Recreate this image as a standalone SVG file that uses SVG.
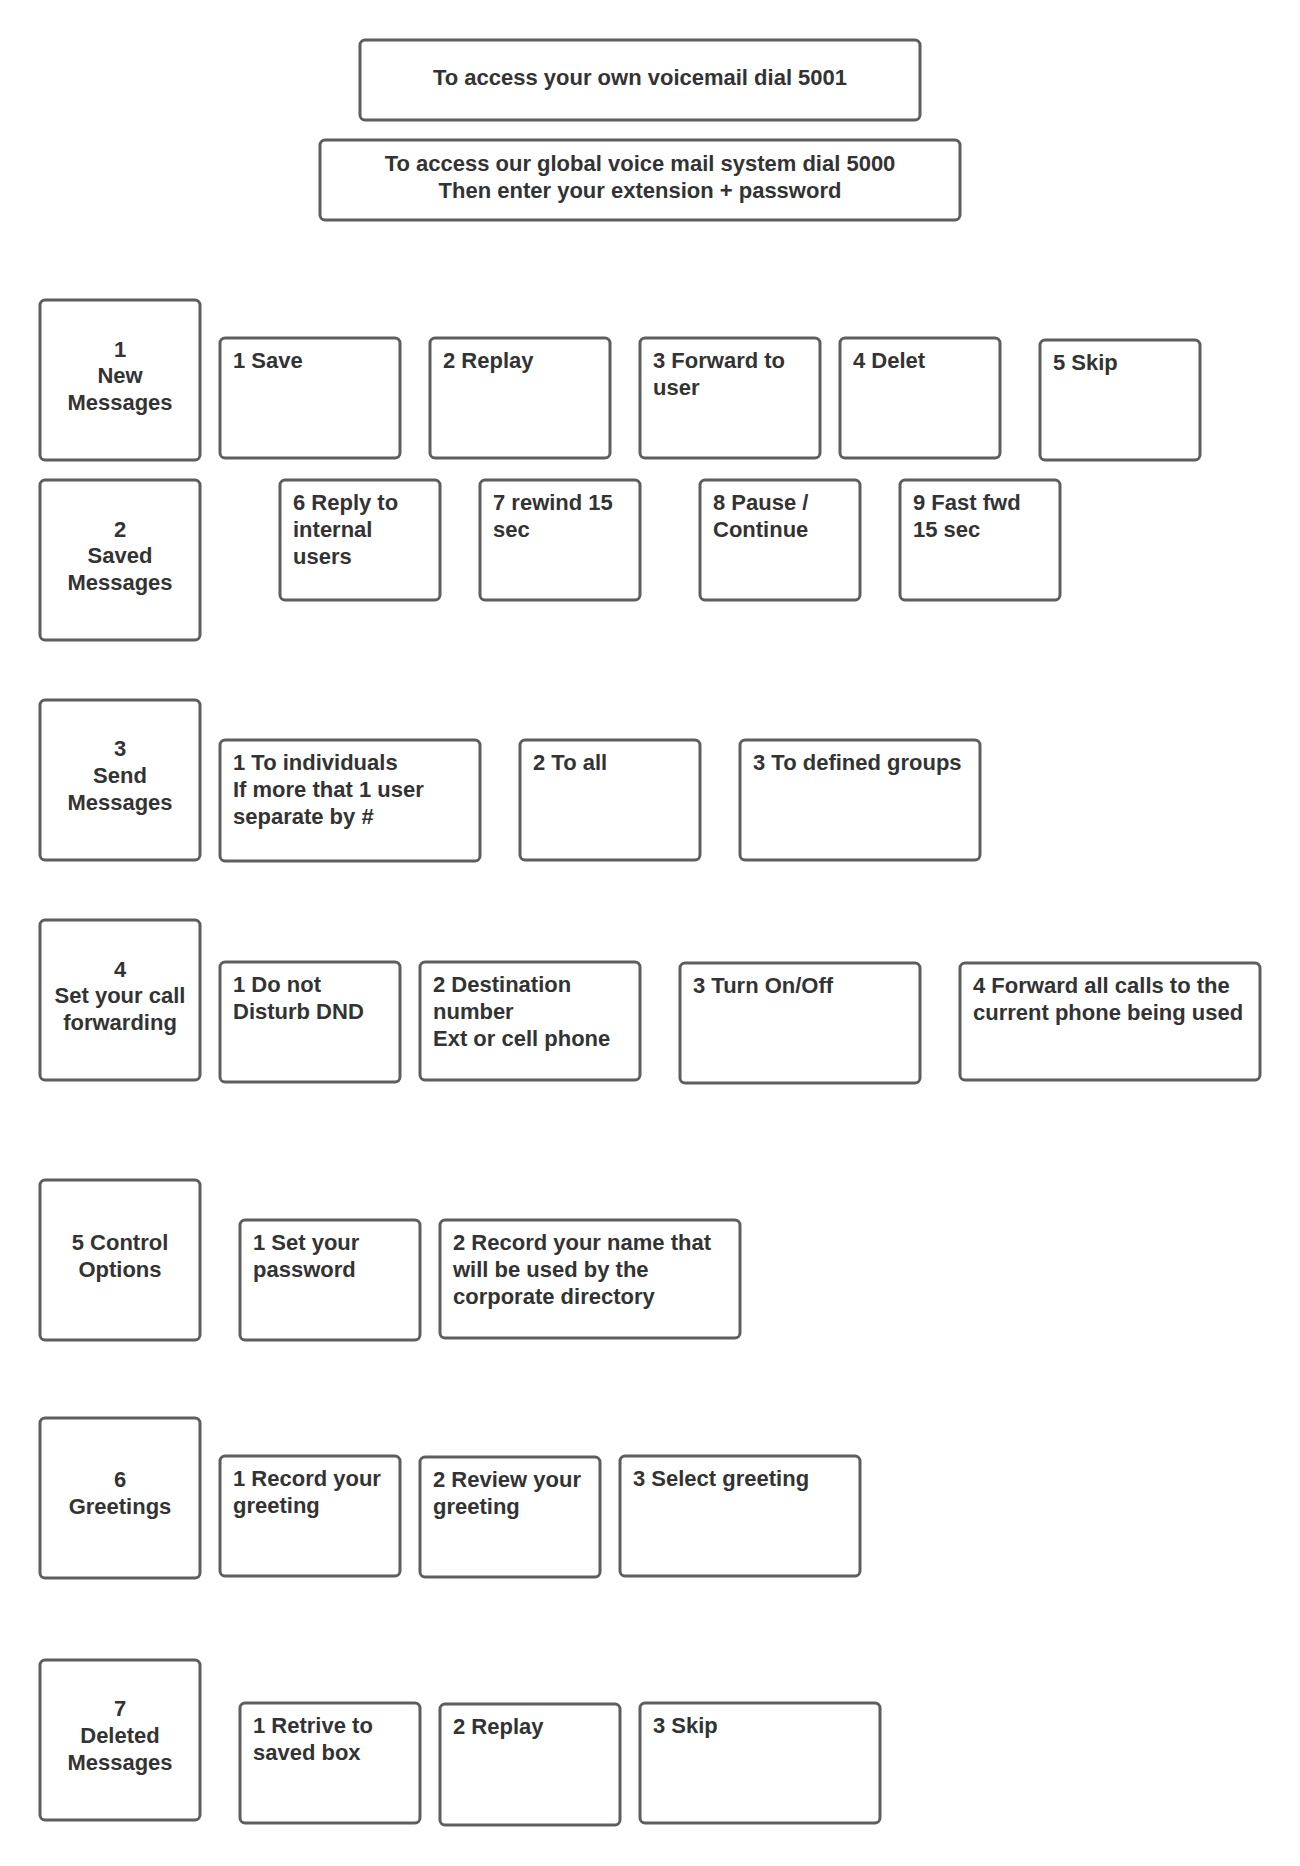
<svg xmlns="http://www.w3.org/2000/svg" width="1300" height="1866" viewBox="0 0 1300 1866">
<style>
  rect.box { fill: #ffffff; stroke: #5e5e5e; stroke-width: 3; }
  text { font-family: "Liberation Sans", Arial, sans-serif; font-size: 22px; font-weight: bold; fill: #333333; }
  text.c { text-anchor: middle; }
</style>
<rect x="0" y="0" width="1300" height="1866" fill="#ffffff"/>
<g id="connectors"/>

<g id="top1"><rect class="box" x="360" y="40" width="560" height="80" rx="5"/><text class="c" x="640" y="85">To access your own voicemail dial 5001</text></g>
<g id="top2"><rect class="box" x="320" y="140" width="640" height="80" rx="5"/><text class="c" x="640" y="171">To access our global voice mail system dial 5000</text><text class="c" x="640" y="198">Then enter your extension + password</text></g>

<!-- Row 1 -->
<g id="m1"><rect class="box" x="40" y="300" width="160" height="160" rx="5"/><text class="c" x="120" y="357">1</text><text class="c" x="120" y="383">New</text><text class="c" x="120" y="410">Messages</text></g>
<g id="m1-1"><rect class="box" x="220" y="338" width="180" height="120" rx="5"/><text x="233" y="368">1 Save</text></g>
<g id="m1-2"><rect class="box" x="430" y="338" width="180" height="120" rx="5"/><text x="443" y="368">2 Replay</text></g>
<g id="m1-3"><rect class="box" x="640" y="338" width="180" height="120" rx="5"/><text x="653" y="368">3 Forward to</text><text x="653" y="395">user</text></g>
<g id="m1-4"><rect class="box" x="840" y="338" width="160" height="120" rx="5"/><text x="853" y="368">4 Delet</text></g>
<g id="m1-5"><rect class="box" x="1040" y="340" width="160" height="120" rx="5"/><text x="1053" y="370">5 Skip</text></g>

<!-- Row 2 -->
<g id="m2"><rect class="box" x="40" y="480" width="160" height="160" rx="5"/><text class="c" x="120" y="537">2</text><text class="c" x="120" y="563">Saved</text><text class="c" x="120" y="590">Messages</text></g>
<g id="m2-6"><rect class="box" x="280" y="480" width="160" height="120" rx="5"/><text x="293" y="510">6 Reply to</text><text x="293" y="537">internal</text><text x="293" y="564">users</text></g>
<g id="m2-7"><rect class="box" x="480" y="480" width="160" height="120" rx="5"/><text x="493" y="510">7 rewind 15</text><text x="493" y="537">sec</text></g>
<g id="m2-8"><rect class="box" x="700" y="480" width="160" height="120" rx="5"/><text x="713" y="510">8 Pause /</text><text x="713" y="537">Continue</text></g>
<g id="m2-9"><rect class="box" x="900" y="480" width="160" height="120" rx="5"/><text x="913" y="510">9 Fast fwd</text><text x="913" y="537">15 sec</text></g>

<!-- Row 3 -->
<g id="m3"><rect class="box" x="40" y="700" width="160" height="160" rx="5"/><text class="c" x="120" y="756">3</text><text class="c" x="120" y="783">Send</text><text class="c" x="120" y="810">Messages</text></g>
<g id="m3-1"><rect class="box" x="220" y="740" width="260" height="121" rx="5"/><text x="233" y="770">1 To individuals</text><text x="233" y="797">If more that 1 user</text><text x="233" y="824">separate by #</text></g>
<g id="m3-2"><rect class="box" x="520" y="740" width="180" height="120" rx="5"/><text x="533" y="770">2 To all</text></g>
<g id="m3-3"><rect class="box" x="740" y="740" width="240" height="120" rx="5"/><text x="753" y="770">3 To defined groups</text></g>

<!-- Row 4 -->
<g id="m4"><rect class="box" x="40" y="920" width="160" height="160" rx="5"/><text class="c" x="120" y="977">4</text><text class="c" x="120" y="1003">Set your call</text><text class="c" x="120" y="1030">forwarding</text></g>
<g id="m4-1"><rect class="box" x="220" y="962" width="180" height="120" rx="5"/><text x="233" y="992">1 Do not</text><text x="233" y="1019">Disturb DND</text></g>
<g id="m4-2"><rect class="box" x="420" y="962" width="220" height="118" rx="5"/><text x="433" y="992">2 Destination</text><text x="433" y="1019">number</text><text x="433" y="1046">Ext or cell phone</text></g>
<g id="m4-3"><rect class="box" x="680" y="963" width="240" height="120" rx="5"/><text x="693" y="993">3 Turn On/Off</text></g>
<g id="m4-4"><rect class="box" x="960" y="963" width="300" height="117" rx="5"/><text x="973" y="993">4 Forward all calls to the</text><text x="973" y="1020">current phone being used</text></g>

<!-- Row 5 -->
<g id="m5"><rect class="box" x="40" y="1180" width="160" height="160" rx="5"/><text class="c" x="120" y="1250">5 Control</text><text class="c" x="120" y="1277">Options</text></g>
<g id="m5-1"><rect class="box" x="240" y="1220" width="180" height="120" rx="5"/><text x="253" y="1250">1 Set your</text><text x="253" y="1277">password</text></g>
<g id="m5-2"><rect class="box" x="440" y="1220" width="300" height="118" rx="5"/><text x="453" y="1250">2 Record your name that</text><text x="453" y="1277">will be used by the</text><text x="453" y="1304">corporate directory</text></g>

<!-- Row 6 -->
<g id="m6"><rect class="box" x="40" y="1418" width="160" height="160" rx="5"/><text class="c" x="120" y="1487">6</text><text class="c" x="120" y="1514">Greetings</text></g>
<g id="m6-1"><rect class="box" x="220" y="1456" width="180" height="120" rx="5"/><text x="233" y="1486">1 Record your</text><text x="233" y="1513">greeting</text></g>
<g id="m6-2"><rect class="box" x="420" y="1457" width="180" height="120" rx="5"/><text x="433" y="1487">2 Review your</text><text x="433" y="1514">greeting</text></g>
<g id="m6-3"><rect class="box" x="620" y="1456" width="240" height="120" rx="5"/><text x="633" y="1486">3 Select greeting</text></g>

<!-- Row 7 -->
<g id="m7"><rect class="box" x="40" y="1660" width="160" height="160" rx="5"/><text class="c" x="120" y="1716">7</text><text class="c" x="120" y="1743">Deleted</text><text class="c" x="120" y="1770">Messages</text></g>
<g id="m7-1"><rect class="box" x="240" y="1703" width="180" height="120" rx="5"/><text x="253" y="1733">1 Retrive to</text><text x="253" y="1760">saved box</text></g>
<g id="m7-2"><rect class="box" x="440" y="1704" width="180" height="121" rx="5"/><text x="453" y="1734">2 Replay</text></g>
<g id="m7-3"><rect class="box" x="640" y="1703" width="240" height="120" rx="5"/><text x="653" y="1733">3 Skip</text></g>
</svg>
